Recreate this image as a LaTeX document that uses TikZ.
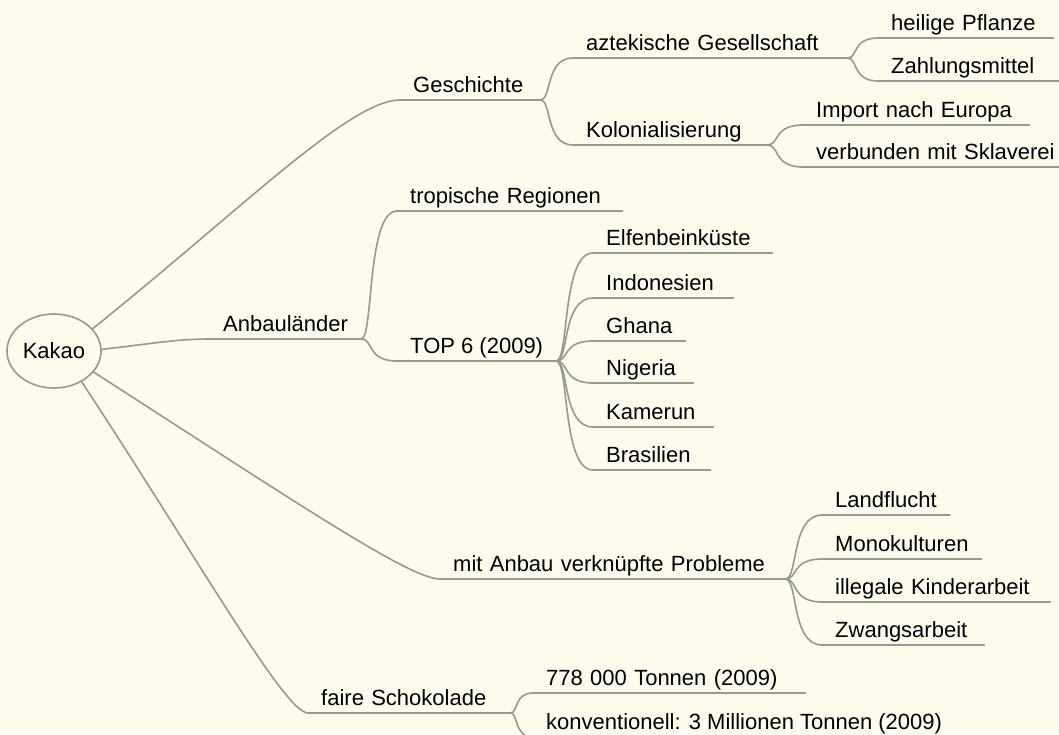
\documentclass[tikz,border=0pt]{standalone}
\usepackage{fontspec}
\setmainfont{Liberation Sans}
\usetikzlibrary{shapes.geometric,calc}
\definecolor{paper}{RGB}{253,251,237}
\definecolor{twiggray}{RGB}{152,152,146}
\tikzset{
  limb/.style={twiggray, line width=1.6pt, line cap=round},
  topic/.style={anchor=south west, inner xsep=13pt, inner ysep=2pt, text height=17pt, text depth=5pt},
  wide/.style={text width=#1, align=left},
  twig/.style={to path={let \p1=(\tikztostart), \p2=(\tikztotarget) in
    .. controls ({\x1+0.35*(\x2-\x1)},\y1) and ({\x1+0.15*(\x2-\x1)},\y2) .. (\tikztotarget)}}
}
\begin{document}
\begin{tikzpicture}[x=1pt, y=-1pt, font=\fontsize{22}{26}\selectfont]
\useasboundingbox (0,0) rectangle (1059,734);
\fill[paper] (0,0) rectangle (1059,734);

% centre
\node[ellipse, draw=twiggray, line width=1.6pt, minimum width=94pt, minimum height=74pt, inner sep=0pt] (kakao) at (54,351) {Kakao};

% Geschichte
\node[topic, wide=114pt] (gesch) at (400,100) {Geschichte};
\node[topic, wide=248pt] (aztek) at (573,58) {aztekische Gesellschaft};
\node[topic, wide=149pt] (heilig) at (878,38) {heilige Pflanze};
\node[topic, wide=200pt] (zahl) at (878,81) {Zahlungsmittel};
\node[topic, wide=168pt] (kolon) at (573,145) {Kolonialisierung};
\node[topic, wide=200pt] (import) at (803,125) {Import nach Europa};
\node[topic, wide=290pt] (sklav) at (803,167) {verbunden mit Sklaverei};

% Anbaulaender
\node[topic] (anbau) at (210,339) {Anbauländer};
\node[topic, wide=199pt] (tropen) at (397,211) {tropische Regionen};
\node[topic] (top) at (397,361) {TOP 6 (2009)};
\node[topic, wide=153pt] (elfen) at (593,253) {Elfenbeinküste};
\node[topic, wide=114pt] (indo) at (593,298) {Indonesien};
\node[topic] (ghana) at (593,341) {Ghana};
\node[topic, wide=74pt] (nigeria) at (593,383) {Nigeria};
\node[topic, wide=94pt] (kamerun) at (593,427) {Kamerun};
\node[topic, wide=91pt] (brasil) at (593,470) {Brasilien};

% Probleme
\node[topic, wide=319pt] (probl) at (440,579) {mit Anbau verknüpfte Probleme};
\node[topic] (landfl) at (822,515) {Landflucht};
\node[topic] (mono) at (822,559) {Monokulturen};
\node[topic, wide=202pt] (kinder) at (822,602) {illegale Kinderarbeit};
\node[topic, wide=136pt] (zwang) at (822,645) {Zwangsarbeit};

% faire Schokolade
\node[topic, wide=176pt] (faire) at (308,713) {faire Schokolade};
\node[topic, wide=246pt] (tonnen) at (533,693) {778 000 Tonnen (2009)};
\node[topic] (konv) at (533,737) {konventionell: 3 Millionen Tonnen (2009)};

% underlines
\foreach \n in {gesch,aztek,heilig,zahl,kolon,import,sklav,anbau,tropen,top,elfen,indo,ghana,nigeria,kamerun,brasil,probl,landfl,mono,kinder,zwang,faire,tonnen,konv}
  \draw[limb] (\n.south west) -- (\n.south east);

% main branches
\draw[limb] (kakao.30) .. controls (243,208) and (350,100) .. (gesch.south west);
\draw[limb] (kakao.2) .. controls (150,344) and (175,339) .. (anbau.south west);
\draw[limb] (kakao.-28) .. controls (300,505) and (410,579) .. (probl.south west);
\draw[limb] (kakao.-48) .. controls (200,562) and (285,713) .. (faire.south west);

% sub branches
\foreach \a/\b in {gesch/aztek,gesch/kolon,aztek/heilig,aztek/zahl,kolon/import,kolon/sklav,
  anbau/tropen,anbau/top,top/elfen,top/indo,top/ghana,top/nigeria,top/kamerun,top/brasil,
  probl/landfl,probl/mono,probl/kinder,probl/zwang,faire/tonnen,faire/konv}
  \draw[limb] (\a.south east) to[twig] (\b.south west);
\end{tikzpicture}
\end{document}
